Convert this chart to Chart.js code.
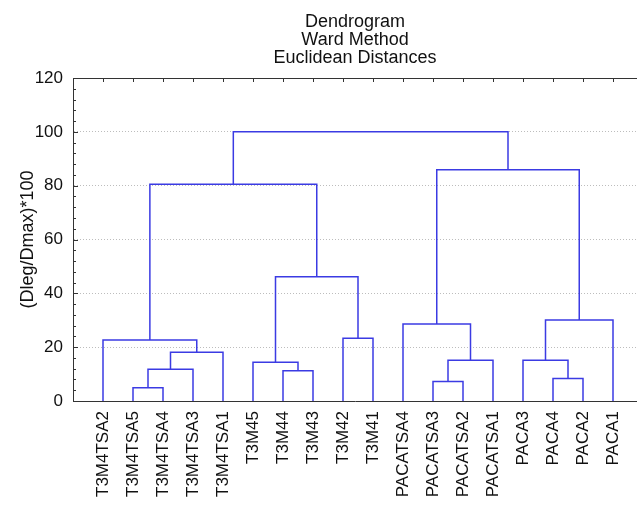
<!DOCTYPE html>
<html>
<head>
<meta charset="utf-8">
<script src="https://cdn.jsdelivr.net/npm/chart.js@4/dist/chart.umd.min.js"></script>
<style>
  html, body { margin: 0; padding: 0; background: #fff; overflow: hidden; }
  #wrap { width: 637px; height: 507px; }
</style>
</head>
<body>
<div id="wrap"><canvas id="chart" width="637" height="507"></canvas></div>
<script>
// leaves, left to right
const leaves = ['T3M4TSA2', 'T3M4TSA5', 'T3M4TSA4', 'T3M4TSA3', 'T3M4TSA1',
  'T3M45', 'T3M44', 'T3M43', 'T3M42', 'T3M41',
  'PACATSA4', 'PACATSA3', 'PACATSA2', 'PACATSA1',
  'PACA3', 'PACA4', 'PACA2', 'PACA1'];

// merges: node ids 0..17 are leaves, merge k makes node 18+k
const mergeLeft   = [1, 18, 19, 0, 6, 5, 8, 23, 21, 11, 27, 10, 15, 14, 31, 29, 26];
const mergeRight  = [2, 3, 4, 20, 7, 22, 9, 24, 25, 12, 13, 28, 16, 30, 17, 32, 33];
const mergeHeight = [4.9, 11.8, 18.1, 22.7, 11.2, 14.4, 23.3, 46.2, 80.5, 7.2, 15.1, 28.6, 8.4, 15.1, 30.1, 85.9, 100];

const yMin = 0, yMax = 120, yStep = 20, yMinorStep = 4;

const lineColor = '#3b3be3';
const fontFamily = '"Liberation Sans", Arial, Helvetica, sans-serif';

// x position and height of every node
const nodeX = leaves.map((_, i) => i + 1);
const nodeH = leaves.map(() => 0);
mergeLeft.forEach((l, k) => {
  nodeX.push((nodeX[l] + nodeX[mergeRight[k]]) / 2);
  nodeH.push(mergeHeight[k]);
});

// one U-shaped link per merge
const datasets = mergeLeft.map((l, k) => {
  const r = mergeRight[k];
  return {
    data: [
      { x: nodeX[l], y: nodeH[l] },
      { x: nodeX[l], y: mergeHeight[k] },
      { x: nodeX[r], y: mergeHeight[k] },
      { x: nodeX[r], y: nodeH[r] }
    ],
    borderColor: lineColor,
    borderWidth: 1.5,
    pointRadius: 0,
    showLine: true,
    tension: 0,
    fill: false
  };
});

// frame on top and inward ticks
const framePlugin = {
  id: 'frameTicks',
  afterDraw(chart) {
    const { ctx, chartArea: a, scales } = chart;
    ctx.save();
    ctx.strokeStyle = '#333';
    ctx.lineWidth = 1;
    ctx.beginPath();
    ctx.moveTo(a.left, a.top + 0.5);
    ctx.lineTo(a.right, a.top + 0.5);
    leaves.forEach((_, i) => {
      const px = Math.round(scales.x.getPixelForValue(i + 1)) + 0.5;
      ctx.moveTo(px, a.top);
      ctx.lineTo(px, a.top + 4);
    });
    for (let v = yMin; v <= yMax; v += yMinorStep) {
      const py = Math.round(scales.y.getPixelForValue(v)) + 0.5;
      const len = v % yStep === 0 ? 5 : 3;
      ctx.moveTo(a.left, py);
      ctx.lineTo(a.left + len, py);
    }
    ctx.stroke();
    ctx.restore();
  }
};

new Chart(document.getElementById('chart'), {
  type: 'scatter',
  data: { datasets: datasets },
  options: {
    responsive: false,
    animation: false,
    devicePixelRatio: 1,
    layout: { padding: 0 },
    plugins: {
      legend: { display: false },
      tooltip: { enabled: false },
      title: {
        display: true,
        fullSize: false,
        text: ['Dendrogram', 'Ward Method', 'Euclidean Distances'],
        color: '#111',
        font: { family: fontFamily, size: 18, weight: 'normal', lineHeight: 1 },
        padding: { top: 13, bottom: 11 }
      }
    },
    scales: {
      x: {
        type: 'linear',
        min: 0,
        max: 18.8,
        afterBuildTicks: scale => { scale.ticks = leaves.map((_, i) => ({ value: i + 1 })); },
        afterFit: scale => {
          scale.height = 106;
          scale.paddingLeft = 0;
          scale.paddingRight = 0;
        },
        grid: { display: false, drawTicks: false },
        border: { display: true, color: '#333', width: 1 },
        ticks: {
          autoSkip: false,
          minRotation: 90,
          maxRotation: 90,
          padding: 10,
          color: '#111',
          font: { family: fontFamily, size: 17 },
          callback: v => leaves[v - 1] || ''
        }
      },
      y: {
        min: yMin,
        max: yMax,
        afterFit: scale => {
          scale.width = 73;
          scale.paddingTop = 0;
          scale.paddingBottom = 0;
        },
        grid: {
          drawTicks: false,
          color: ctx => (ctx.tick && (ctx.tick.value === yMin || ctx.tick.value === yMax)) ? 'rgba(0,0,0,0)' : '#bdbdbd',
          lineWidth: 1
        },
        border: { display: true, color: '#333', width: 1, dash: [1, 2] },
        ticks: {
          stepSize: yStep,
          padding: 10,
          color: '#111',
          font: { family: fontFamily, size: 17 }
        },
        title: {
          display: true,
          text: '(Dleg/Dmax)*100',
          color: '#111',
          font: { family: fontFamily, size: 18 },
          padding: { top: 17, bottom: 0 }
        }
      }
    }
  },
  plugins: [framePlugin]
});
</script>
</body>
</html>
